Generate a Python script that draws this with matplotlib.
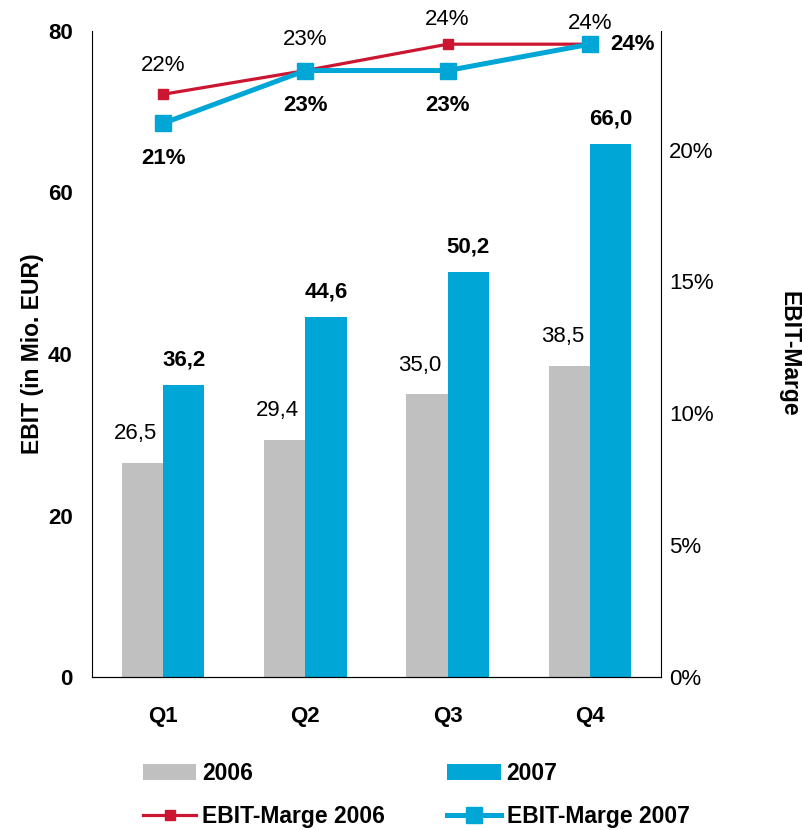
import matplotlib.pyplot as plt
import numpy as np

plt.rcParams['font.family'] = ['Liberation Sans', 'DejaVu Sans']

quarters = ['Q1', 'Q2', 'Q3', 'Q4']
ebit_2006 = [26.5, 29.4, 35.0, 38.5]
ebit_2007 = [36.2, 44.6, 50.2, 66.0]
marge_2006 = [22.1, 23.0, 24.0, 24.0]
marge_2007 = [21.0, 23.0, 23.0, 24.0]
marge_2006_labels = ['22%', '23%', '24%', '24%']
marge_2007_labels = ['21%', '23%', '23%', '24%']

grey = '#C0C0C0'
blue = '#00A6D6'
red = '#CC1530'
fs = 16

fig = plt.figure(figsize=(8.03, 8.30), dpi=100)
ax = fig.add_axes([92 / 803, 1 - 677 / 830, (661 - 92) / 803, (677 - 31) / 830])

x = np.arange(len(quarters))
w = 0.29
b1 = ax.bar(x - w / 2, ebit_2006, w, color=grey, label='2006')
b2 = ax.bar(x + w / 2, ebit_2007, w, color=blue, label='2007')

for xi, v in zip(x, ebit_2006):
    ax.annotate(f'{v:.1f}'.replace('.', ','), (xi - w / 2, v), xytext=(-5, 21),
                textcoords='offset points', ha='center', va='center', fontsize=fs)
for xi, v in zip(x, ebit_2007):
    ax.annotate(f'{v:.1f}'.replace('.', ','), (xi + w / 2, v), xytext=(0, 18),
                textcoords='offset points', ha='center', va='center', fontsize=fs,
                fontweight='bold')

ax.set_xlim(-0.5, 3.5)
ax.set_ylim(0, 80)
ax.set_yticks([0, 20, 40, 60, 80])
ax.set_xticks(x)
ax.set_xticklabels(quarters, fontweight='bold', fontsize=fs)
for t in ax.get_yticklabels():
    t.set_fontweight('bold')
    t.set_fontsize(fs)
ax.tick_params(axis='x', length=0, pad=21)
ax.tick_params(axis='y', length=0, pad=14)
ax.spines['top'].set_visible(False)
ax.spines['right'].set_visible(False)
ax.set_ylabel('EBIT (in Mio. EUR)', fontweight='bold', fontsize=fs + 0.5, labelpad=3)

ax2 = ax.twinx()
l1, = ax2.plot(x, marge_2006, color=red, lw=2.3, marker='s', markersize=7, label='EBIT-Marge 2006')
l2, = ax2.plot(x, marge_2007, color=blue, lw=3.6, marker='s', markersize=12, label='EBIT-Marge 2007')
ax2.set_ylim(0, 24.5)
ax2.set_yticks([0, 5, 10, 15, 20])
ax2.set_yticklabels(['0%', '5%', '10%', '15%', '20%'], fontsize=fs)
ax2.tick_params(axis='y', length=0, pad=6)
ax2.spines['top'].set_visible(False)
ax2.spines['left'].set_visible(False)
ax2.set_ylabel('EBIT-Marge', fontweight='bold', fontsize=fs + 0.5, rotation=-90, labelpad=62)

up = [21, 22, 18, 15]
for xi, v, s, dy in zip(x, marge_2006, marge_2006_labels, up):
    ax2.annotate(s, (xi, v), xytext=(0, dy), textcoords='offset points',
                 ha='center', va='center', fontsize=fs)
for i, (xi, v, s) in enumerate(zip(x, marge_2007, marge_2007_labels)):
    off = (31, 0) if i == 3 else (0, -25)
    ax2.annotate(s, (xi, v), xytext=off, textcoords='offset points',
                 ha='center', va='center', fontsize=fs, fontweight='bold')

fig.legend([b1, l1, b2, l2], ['2006', 'EBIT-Marge 2006', '2007', 'EBIT-Marge 2007'],
           ncol=2, loc='lower left', bbox_to_anchor=(122 / 803, -0.022), frameon=False,
           prop={'weight': 'bold', 'size': fs + 0.5}, handlelength=2.35, columnspacing=2.7,
           handletextpad=0.25, labelspacing=0.85)

fig.savefig('out.png', dpi=100)
